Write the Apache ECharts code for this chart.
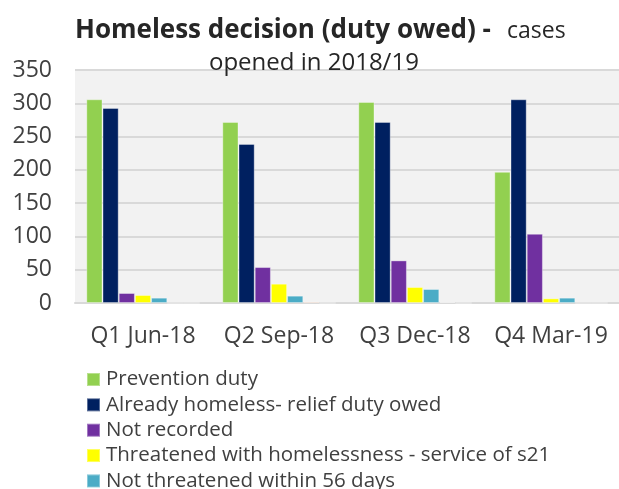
<!DOCTYPE html>
<html>
<head>
<meta charset="utf-8">
<script src="https://cdn.jsdelivr.net/npm/echarts@6/dist/echarts.min.js"></script>
<style>
  html, body { margin: 0; padding: 0; background: #fff; }
  #main { width: 619px; height: 489px; }
</style>
</head>
<body>
<div id="main"></div>
<script>
const quarters = ['Q1 Jun-18', 'Q2 Sep-18', 'Q3 Dec-18', 'Q4 Mar-19'];
const preventionDuty = [306, 272, 302, 197];
const reliefDuty = [293, 239, 272, 306];
const notRecorded = [15, 54, 64, 104];
const threatenedS21 = [12, 29, 24, 7];
const notThreatened = [8, 11, 21, 8];
const otherCases = [0, 2, 1.5, 0];
const unknownCases = [0, 0, 0, 0];
const yTicks = [0, 50, 100, 150, 200, 250, 300, 350];

const font = '"Open Sans", sans-serif';
const textColor = '#404040';
const titleColor = '#262626';

const chart = echarts.init(document.getElementById('main'));

const mkSeries = (name, values, color) => ({
    name: name,
    type: 'bar',
    data: values,
    barWidth: 16.2,
    barGap: '0%',
    itemStyle: { color: color, borderColor: 'rgba(255,255,255,0.35)', borderWidth: 1 }
});

chart.setOption({
    animation: false,
    title: [
        {
            text: 'Homeless decision (duty owed) -',
            left: 75, top: 18, padding: 0,
            textStyle: { fontFamily: font, fontSize: 26, fontWeight: 'bold', color: titleColor }
        },
        {
            text: 'cases',
            left: 507, top: 20, padding: 0,
            textStyle: { fontFamily: font, fontSize: 23, fontWeight: 'normal', color: titleColor }
        },
        {
            text: 'opened in 2018/19',
            left: 209, top: 51, padding: 0,
            textStyle: { fontFamily: font, fontSize: 24, fontWeight: 'normal', color: titleColor }
        }
    ],
    grid: {
        left: 75, right: -8, top: 70, height: 233,
        show: true, backgroundColor: '#f2f2f2', borderWidth: 0
    },
    legend: {
        orient: 'vertical',
        left: 81,
        top: 362,
        height: 200,
        itemWidth: 13,
        itemHeight: 13,
        itemGap: 0.35,
        icon: 'rect',
        textStyle: { fontFamily: font, fontSize: 20.5, lineHeight: 25, color: textColor, padding: [0, 0, 0, 1] },
        data: ['Prevention duty', 'Already homeless- relief duty owed', 'Not recorded',
               'Threatened with homelessness - service of s21', 'Not threatened within 56 days']
    },
    xAxis: {
        type: 'category',
        data: quarters,
        axisTick: { show: false },
        axisLine: { lineStyle: { color: '#d9d9d9', width: 2 } },
        axisLabel: { interval: 0, hideOverlap: false, fontFamily: font, fontSize: 23, color: textColor, margin: 22 }
    },
    yAxis: {
        type: 'value',
        min: yTicks[0],
        max: yTicks[yTicks.length - 1],
        interval: 50,
        axisLine: { show: false },
        axisTick: { show: false },
        splitLine: { lineStyle: { color: '#d9d9d9', width: 2 } },
        axisLabel: { fontFamily: font, fontSize: 23, color: textColor, margin: 23 }
    },
    series: [
        mkSeries('Prevention duty', preventionDuty, '#92d050'),
        mkSeries('Already homeless- relief duty owed', reliefDuty, '#002060'),
        mkSeries('Not recorded', notRecorded, '#7030a0'),
        mkSeries('Threatened with homelessness - service of s21', threatenedS21, '#ffff00'),
        mkSeries('Not threatened within 56 days', notThreatened, '#4bacc6'),
        mkSeries('Other', otherCases, '#f4b183'),
        mkSeries('Unknown', unknownCases, '#a5a5a5')
    ]
});
</script>
</body>
</html>
